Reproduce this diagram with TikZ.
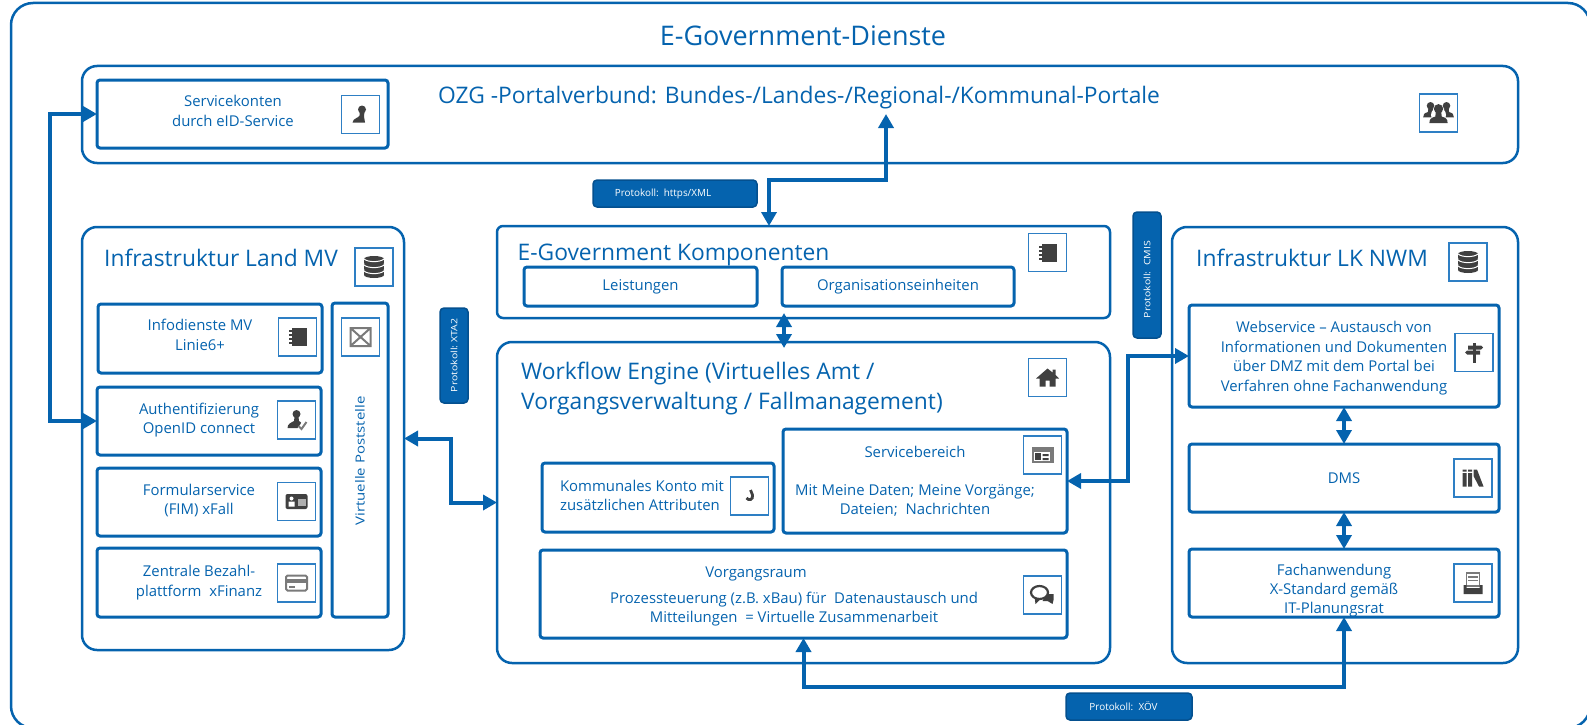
\documentclass[tikz,border=0pt]{standalone}
\usepackage{fontspec}
\setmainfont{Open Sans}
\newfontfamily\breit[FakeStretch=1.2]{Open Sans}
\usetikzlibrary{arrows.meta, positioning}

\definecolor{blau}{HTML}{0563AE}
\definecolor{blaudunkel}{HTML}{04508F}
\definecolor{blauhell}{HTML}{2E7FC4}
\definecolor{glyph}{HTML}{404040}
\definecolor{glyphhell}{HTML}{7A7A7A}

\tikzset{
  dims/.style 2 args={minimum width=#1,minimum height=#2},
  panel/.style={draw=blau,line width=2.5pt,rounded corners=15pt,inner sep=0,outer sep=0},
  innerbox/.style={draw=blau,line width=3pt,rounded corners=3pt,inner sep=0,outer sep=0,text=blau,
    font=\fontsize{14.9}{19.3}\selectfont},
  iconbox/.style={draw=blauhell,line width=1.3pt,inner sep=0,outer sep=0,dims={38}{38}},
  badge/.style={draw=blaudunkel,fill=blau,line width=1.5pt,rounded corners=4pt,inner sep=0,text=white,
    font=\fontsize{9.9}{11}\selectfont},
  lbl/.style={text=blau,align=center,inner sep=0,font=\fontsize{14.9}{19.3}\selectfont},
  heading/.style={text=blau,align=left,inner sep=0,font=\fontsize{22.8}{29.5}\selectfont},
  link/.style={draw=blau,line width=4pt,{Triangle[length=14pt,width=15pt]}-{Triangle[length=14pt,width=15pt]}},
  bust/.pic={
    \fill[glyph] (0,-4) circle (3.6);
    \fill[glyph] (-2,-2) -- (2,-2) -- (2.5,2) .. controls (6,3) and (7,4) .. (7,7) -- (-7,7) .. controls (-7,4) and (-6,3) .. (-2.5,2) -- cycle;
  },
  glyphkonto/.pic={
    \fill[glyph] (1.5,-5) circle (4);
    \fill[glyph] (-1,-3) -- (4,-3) -- (3.5,2) -- (4.5,8) -- (-8,8) .. controls (-7,3) and (-2,4) .. (-1,1) -- cycle;
  },
  glyphhaken/.pic={
    \draw[glyph,line width=2.8pt] (1,-6) -- (3,-1) .. controls (4,4) and (-1,5) .. (-3,2);
  },
  glyphbuch/.pic={
    \fill[glyph] (-6,-9) rectangle (9,9);
    \foreach \ty in {-6,-2,2,6} {\fill[glyph] (-9,\ty-1) rectangle (-6,\ty+1);}
  },
  glyphdb/.pic={
    \foreach \ty in {6,0,-6} {
      \fill[glyph] (0,\ty+2) ellipse (10 and 3);
      \fill[glyph] (-10,\ty-2) rectangle (10,\ty+2);
      \fill[glyph] (0,\ty-2) ellipse (10 and 3);
      \draw[white,line width=1pt] (-10,\ty-2) .. controls (-6,\ty+1.5) and (6,\ty+1.5) .. (10,\ty-2);
    }
  },
  glyphbrief/.pic={
    \draw[glyphhell,line width=2pt] (-10,-9) rectangle (10,9) (-10,-9) -- (10,9) (10,-9) -- (-10,9);
  },
  glyphcheck/.pic={
    \fill[glyph] (0,-6) circle (4);
    \fill[glyph] (-2,-3) -- (2,-3) -- (2.5,1) .. controls (5,2) and (5,3) .. (4,4) -- (1,8) -- (-9,8) .. controls (-9,4) and (-6,3) .. (-2.5,1) -- cycle;
    \draw[glyphhell,line width=2pt] (2,6) -- (5,9) -- (10,2);
  },
  glyphausweis/.pic={
    \fill[glyph,rounded corners=2pt] (-11,-7.5) rectangle (11,7.5);
    \fill[white] (-5,-3) circle (2) (-8,5) rectangle (-2,0);
    \fill[glyphhell!60] (1,-3) rectangle (9,4);
  },
  glyphkarte/.pic={
    \draw[glyphhell,line width=2pt,rounded corners=1.5pt] (-10.5,-7.5) rectangle (10.5,7.5);
    \fill[glyphhell] (-10.5,-4.5) rectangle (10.5,-0.5);
    \fill[glyphhell] (-8,3) rectangle (-2,5);
  },
  glyphhaus/.pic={
    \fill[glyph] (0,-9) -- (5,-5) -- (5,-8) -- (8,-8) -- (8,-2.5) -- (11.5,1) -- (8,1) -- (8,9) -- (2,9) -- (2,3) -- (-2,3) -- (-2,9) -- (-8,9) -- (-8,1) -- (-11.5,1) -- cycle;
  },
  glyphzeitung/.pic={
    \fill[glyphhell] (-11,-8) rectangle (11,8);
    \fill[white] (-9,-3) rectangle (7,6);
    \fill[glyph] (-8,-2) rectangle (-2,5);
    \fill[glyph] (0,-1) rectangle (6,1) (0,3) rectangle (6,5);
  },
  glyphsprechen/.pic={
    \fill[glyph] (4,-1) -- (11,-1) -- (11,5) -- (10,9) -- (5,6) -- (0,6) -- cycle;
    \draw[glyph,line width=2.2pt,fill=white] (-3,-2.5) ellipse (8.5 and 6.5);
    \fill[glyph] (-8,2) -- (-7,9) -- (-2,4) -- cycle;
  },
  glyphweg/.pic={
    \fill[glyph] (-1.5,-10) rectangle (1.5,10);
    \fill[glyph] (-6,-7) -- (7,-7) -- (9,-5) -- (7,-3) -- (-6,-3) -- cycle;
    \fill[glyph] (-9,0) -- (-7,-2) -- (6,-2) -- (6,2) -- (-7,2) -- cycle;
  },
  glyphregal/.pic={
    \fill[glyph] (-10.5,-5) rectangle (-6.5,8.5) (-5,-5) rectangle (-1,8.5);
    \fill[glyph] (-10.5,-8.5) rectangle (-6.5,-6.5) (-5,-8.5) rectangle (-1,-6.5);
    \fill[glyph] (0.5,-8.5) -- (4,-8.5) -- (10.5,8.5) -- (6,8.5) -- (0.5,-2) -- cycle;
  },
  glyphablage/.pic={
    \draw[glyphhell,line width=1.6pt] (-6.5,-10) rectangle (6.5,3);
    \draw[glyphhell,line width=1.4pt] (-5,-6) -- (5,-6) (-5,-2.5) -- (5,-2.5);
    \fill[glyph] (-9.5,2) -- (-6.5,2) -- (-6.5,5) -- (6.5,5) -- (6.5,2) -- (9.5,2) -- (9.5,11) -- (-9.5,11) -- cycle;
  },
  glyphgruppe/.pic={
    \pic[scale=1.05] at (-8,-3) {bust};
    \pic[scale=1.05] at (8,-3) {bust};
    \fill[white] (0,2) circle (7.5);
    \pic[scale=1.3] at (0,1) {bust};
  }
}

\begin{document}
\begin{tikzpicture}[x=1pt,y=-1pt]
  \useasboundingbox (0,0) rectangle (1587,725);

  % Rahmen
  \node[panel,rounded corners=22pt,dims={1579}{725}] (dienste) at (800.5,365.5) {};
  \node[text=blau,inner sep=0,font=\fontsize{27}{32}\selectfont] (diensttitel) at (803,36) {E-Government-Dienste};

  % Portalverbund
  \node[panel,dims={1436}{97}] (ozg) at (800,114.5) {};
  \node[heading] (ozgtitel) at (799,98) {OZG -Portalverbund: Bundes-/Landes-/Regional-/Kommunal-Portale};
  \node[innerbox,dims={291}{68}] (servicekonten) at (242.5,114) {};
  \node[lbl] (servicekontentext) at (233,111) {Servicekonten\\durch eID-Service};

  % Infrastruktur Land
  \node[panel,dims={322}{423}] (land) at (243,438.5) {};
  \node[heading] (landtitel) at (221,258) {Infrastruktur Land MV};
  \node[innerbox,dims={224}{69}] (info) at (210,338.5) {};
  \node[lbl] (infotext) at (200,335) {Infodienste MV\\Linie6+};
  \node[innerbox,dims={224}{68}] (auth) at (209,421) {};
  \node[lbl] (authtext) at (199,420) {Authentifizierung\\OpenID connect};
  \node[innerbox,dims={224}{68}] (form) at (209,502) {};
  \node[lbl] (formtext) at (199,500.5) {Formularservice\\(FIM) xFall};
  \node[innerbox,dims={224}{69}] (zahl) at (209,582.5) {};
  \node[lbl] (zahltext) at (199,582.5) {Zentrale Bezahl-\\plattform\ \ xFinanz};
  \node[innerbox,dims={56}{314}] (post) at (360,460) {};
  \node[text=blau,inner sep=0,rotate=90,font=\breit\fontsize{12.5}{16}\selectfont] (posttext) at (360,461) {Virtuelle Poststelle};

  % Komponenten
  \node[panel,rounded corners=6pt,dims={613}{92}] (egov) at (803.5,272) {};
  \node[heading] (egovtitel) at (673.5,255) {E-Government Komponenten};
  \node[innerbox,dims={233}{39}] (leist) at (640.5,286.5) {Leistungen};
  \node[innerbox,dims={232}{39}] (org) at (898,286.5) {Organisationseinheiten};

  % Workflow Engine
  \node[panel,dims={613}{321}] (workflow) at (803.5,502.5) {};
  \node[heading] (workflowtitel) at (732,388.5) {Workflow Engine (Virtuelles Amt /\\Vorgangsverwaltung / Fallmanagement)};
  \node[innerbox,dims={232}{69}] (konto) at (658,497.5) {};
  \node[lbl,align=left] (kontotext) at (642,495.5) {Kommunales Konto mit\\zusätzlichen Attributen};
  \node[innerbox,dims={284}{104}] (service) at (925,481) {};
  \node[lbl] (servicetitel) at (915,452) {Servicebereich};
  \node[lbl] (servicetext) at (915,500.5) {Mit Meine Daten; Meine Vorgänge;\\Dateien;\ \ Nachrichten};
  \node[innerbox,dims={527}{88}] (vorgang) at (803.5,594) {};
  \node[lbl] (vorgangtitel) at (756,574) {Vorgangsraum};
  \node[lbl] (vorgangtext) at (794,609) {Prozessteuerung (z.B. xBau) für\ \ Datenaustausch und\\Mitteilungen\ \ = Virtuelle Zusammenarbeit};

  % Infrastruktur LK
  \node[panel,dims={346}{436}] (nwm) at (1345,445) {};
  \node[heading] (nwmtitel) at (1312,258) {Infrastruktur LK NWM};
  \node[innerbox,dims={310}{102}] (web) at (1344,356) {};
  \node[lbl,font=\fontsize{14.9}{19.6}\selectfont] (webtext) at (1334,358) {Webservice -- Austausch von\\Informationen und Dokumenten\\über DMZ mit dem Portal bei\\Verfahren ohne Fachanwendung};
  \node[innerbox,dims={310}{68}] (dms) at (1344,478) {DMS};
  \node[innerbox,dims={310}{68}] (fach) at (1344,583) {};
  \node[lbl] (fachtext) at (1334,590.5) {Fachanwendung\\X-Standard gemäß\\IT-Planungsrat};

  % Icons
  \foreach \iname/\ix/\iy/\iglyph in {
      ikonto/360.5/114.5/glyphkonto, iozg/1438.5/113/glyphgruppe, iland/374/267/glyphdb,
      iinfo/297.5/337/glyphbuch, ipost/360.5/337/glyphbrief, iauth/296.5/420/glyphcheck,
      iform/296.5/501.5/glyphausweis, izahl/296.5/583/glyphkarte, iegov/1047.5/252.5/glyphbuch,
      iflow/1047.5/377.5/glyphhaus, ihaken/749.5/496/glyphhaken, iservice/1042.5/455/glyphzeitung,
      ivorgang/1042.5/595/glyphsprechen, inwm/1468/262/glyphdb, iweb/1474/352.5/glyphweg,
      idms/1473/478/glyphregal, ifach/1473/583/glyphablage} {
    \node[iconbox] (\iname) at (\ix,\iy) {};
    \pic at (\iname) {\iglyph};
  }

  % Protokolle
  \node[badge,dims={164}{27}] (https) at (675,193.5) {Protokoll:\ \ https/XML\hspace*{24pt}\mbox{}};
  \node[badge,rotate=90,dims={126}{28},font=\breit\fontsize{8.8}{11}\selectfont] (cmis) at (1147,275) {Protokoll:\ \ CMIS\hspace*{9pt}\mbox{}};
  \node[badge,rotate=90,dims={95}{28},font=\breit\fontsize{8.8}{11}\selectfont] (xta) at (454,355.5) {Protokoll:\ XTA2};
  \node[badge,dims={126}{27}] (xoev) at (1129,706.5) {Protokoll:\ \ XÖV\hspace*{11pt}\mbox{}};

  % Verbindungen
  \coordinate (idmbus) at (49.5,300);
  \coordinate (httpsbus) at (769,180);
  \coordinate (ozgtip) at (886,114);
  \coordinate (egovtip) at (784,313);
  \coordinate (flowtip) at (784,348);
  \coordinate (xtabus) at (451,470);
  \coordinate (cmisbus) at (1128,420);
  \coordinate (xoevbus) at (1000,687);

  \draw[link] (servicekonten.west) -| (idmbus) |- (auth.west);
  \draw[link] (httpsbus |- egov.north) -- (httpsbus) -| (ozgtip);
  \draw[link] (egovtip) -- (flowtip);
  \draw[link] (land.east) -| (xtabus) |- (workflow.west);
  \draw[link] (service.east) -| (cmisbus) |- (web.west);
  \draw[link] (vorgang.south) |- (xoevbus) -| (fach.south);
  \draw[link,line width=3.5pt] (web.south) -- (dms.north);
  \draw[link,line width=3.5pt] (dms.south) -- (fach.north);
\end{tikzpicture}
\end{document}
